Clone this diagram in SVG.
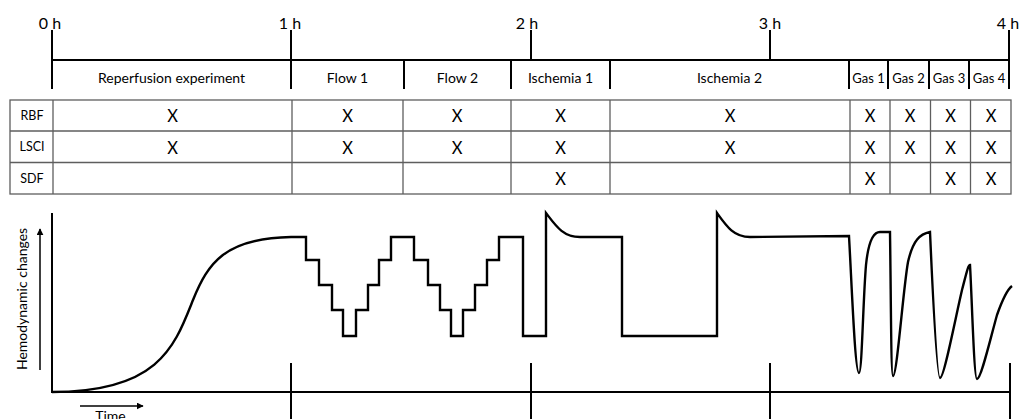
<svg xmlns="http://www.w3.org/2000/svg" width="1021" height="419" viewBox="0 0 1021 419">
<style>
  .ln{stroke:#000;stroke-width:2;fill:none;stroke-linecap:butt}
  .grid{stroke:#5e5e5e;stroke-width:1.3;fill:none}
  .hr{font-family:Lato,"Liberation Sans",sans-serif;font-size:16px;fill:#000;text-anchor:middle}
  .ph{font-family:Lato,"Liberation Sans",sans-serif;font-size:14px;fill:#000;text-anchor:middle}
  .phs{font-family:Lato,"Liberation Sans",sans-serif;font-size:13px;fill:#000;text-anchor:middle}
  .rl{font-family:Lato,"Liberation Sans",sans-serif;font-size:12.5px;fill:#000;text-anchor:middle}
  .x{font-family:Lato,"Liberation Sans",sans-serif;font-size:16.5px;fill:#000;text-anchor:middle}
  .ax{font-family:Lato,"Liberation Sans",sans-serif;font-size:14px;fill:#000;text-anchor:middle}
  .curve{stroke:#000;stroke-width:2.4;fill:none;stroke-linejoin:miter}
</style>
<defs>
  <marker id="arr" viewBox="0 0 10 10" refX="9" refY="5" markerWidth="7" markerHeight="7" markerUnits="userSpaceOnUse" orient="auto">
    <path d="M0,0 L10,5 L0,10 z" fill="#000"/>
  </marker>
</defs>
<rect width="1021" height="419" fill="#fff"/>

<g id="timeline">
  <line class="ln" x1="52" y1="60" x2="1009" y2="60"/>
  <line class="ln" x1="52" y1="30" x2="52" y2="89"/>
  <line class="ln" x1="291" y1="30" x2="291" y2="89"/>
  <line class="ln" x1="531" y1="30" x2="531" y2="60"/>
  <line class="ln" x1="770" y1="30" x2="770" y2="60"/>
  <line class="ln" x1="1009" y1="30" x2="1009" y2="89"/>
  <line class="ln" x1="404" y1="60" x2="404" y2="89"/>
  <line class="ln" x1="511" y1="60" x2="511" y2="89"/>
  <line class="ln" x1="610" y1="60" x2="610" y2="89"/>
  <line class="ln" x1="849" y1="60" x2="849" y2="89"/>
  <line class="ln" x1="888" y1="60" x2="888" y2="89"/>
  <line class="ln" x1="929" y1="60" x2="929" y2="89"/>
  <line class="ln" x1="969" y1="60" x2="969" y2="89"/>
  <text class="hr" x="50" y="29">0 h</text>
  <text class="hr" x="290" y="29">1 h</text>
  <text class="hr" x="527" y="29">2 h</text>
  <text class="hr" x="770" y="29">3 h</text>
  <text class="hr" x="1008" y="29">4 h</text>
</g>

<g id="phases">
  <text class="ph" x="171.5" y="83">Reperfusion experiment</text>
  <text class="ph" x="347.5" y="83">Flow 1</text>
  <text class="ph" x="457.5" y="83">Flow 2</text>
  <text class="ph" x="560.5" y="83">Ischemia 1</text>
  <text class="ph" x="729.5" y="83">Ischemia 2</text>
  <text class="phs" x="868.5" y="83">Gas 1</text>
  <text class="phs" x="908.5" y="83">Gas 2</text>
  <text class="phs" x="949" y="83">Gas 3</text>
  <text class="phs" x="989" y="83">Gas 4</text>
</g>

<g id="table">
  <rect class="grid" x="10" y="100" width="1001" height="94"/>
  <line class="grid" x1="10" y1="131" x2="1011" y2="131"/>
  <line class="grid" x1="10" y1="162.5" x2="1011" y2="162.5"/>
  <line class="grid" x1="53" y1="100" x2="53" y2="194"/>
  <line class="grid" x1="292" y1="100" x2="292" y2="194"/>
  <line class="grid" x1="403" y1="100" x2="403" y2="194"/>
  <line class="grid" x1="511" y1="100" x2="511" y2="194"/>
  <line class="grid" x1="610" y1="100" x2="610" y2="194"/>
  <line class="grid" x1="850" y1="100" x2="850" y2="194"/>
  <line class="grid" x1="890" y1="100" x2="890" y2="194"/>
  <line class="grid" x1="930.5" y1="100" x2="930.5" y2="194"/>
  <line class="grid" x1="970.5" y1="100" x2="970.5" y2="194"/>
  <text class="rl" x="32" y="119.5">RBF</text>
  <text class="rl" x="32" y="151">LSCI</text>
  <text class="rl" x="32" y="182.5">SDF</text>
  <g id="row-rbf">
    <text class="x" x="172.5" y="122">X</text>
    <text class="x" x="347.5" y="122">X</text>
    <text class="x" x="457" y="122">X</text>
    <text class="x" x="560.5" y="122">X</text>
    <text class="x" x="730" y="122">X</text>
    <text class="x" x="870" y="122">X</text>
    <text class="x" x="910" y="122">X</text>
    <text class="x" x="950.5" y="122">X</text>
    <text class="x" x="991" y="122">X</text>
  </g>
  <g id="row-lsci">
    <text class="x" x="172.5" y="153.5">X</text>
    <text class="x" x="347.5" y="153.5">X</text>
    <text class="x" x="457" y="153.5">X</text>
    <text class="x" x="560.5" y="153.5">X</text>
    <text class="x" x="730" y="153.5">X</text>
    <text class="x" x="870" y="153.5">X</text>
    <text class="x" x="910" y="153.5">X</text>
    <text class="x" x="950.5" y="153.5">X</text>
    <text class="x" x="991" y="153.5">X</text>
  </g>
  <g id="row-sdf">
    <text class="x" x="560.5" y="185">X</text>
    <text class="x" x="870" y="185">X</text>
    <text class="x" x="950.5" y="185">X</text>
    <text class="x" x="991" y="185">X</text>
  </g>
</g>

<g id="plot-axes">
  <line class="ln" x1="52" y1="213" x2="52" y2="393" stroke-width="2.4"/>
  <line class="ln" x1="51" y1="392" x2="1010" y2="392" stroke-width="2.4"/>
  <line class="ln" x1="291" y1="363" x2="291" y2="419"/>
  <line class="ln" x1="531" y1="363" x2="531" y2="419"/>
  <line class="ln" x1="770" y1="363" x2="770" y2="419"/>
  <line class="ln" x1="1010" y1="363" x2="1010" y2="419"/>
</g>

<g id="connectors">
  <line x1="40" y1="370" x2="40" y2="229" stroke="#000" stroke-width="1.5" marker-end="url(#arr)"/>
  <line x1="80" y1="406" x2="143" y2="406" stroke="#000" stroke-width="1.5" marker-end="url(#arr)"/>
</g>

<g id="axis-labels">
  <text class="ax" transform="translate(27,299) rotate(-90)">Hemodynamic changes</text>
  <text class="ax" x="110.5" y="421">Time</text>
</g>

<g id="curve">
  <path class="curve" d="M52,392 C160,392 175,345 193,300 C208,263 225,238 291,237 L306,237 L306,260 L319,260 L319,285 L332,285 L332,310 L343,310 L343,336 L356,336 L356,310 L368,310 L368,285 L379,285 L379,260 L391,260 L391,237 L414,237 L414,260 L428,260 L428,285 L440,285 L440,310 L451,310 L451,336 L463,336 L463,310 L475,310 L475,285 L487,285 L487,260 L499,260 L499,237 L523,237 L523,336 L546,336 L546,213 C556,226 563,237 580,237 L622,237 L622,336 L717,336 L717,213 C727,227 734,237 750,237 L849,236 C852,290 855,373 859,373 C862,373 863,300 866,265 C868,245 872,232 880,232 L890,232 C891,300 891,376 893,376 C897,376 903,290 908,262 C913,240 920,234 930,232 C933,300 937,378 940,378 C944,378 955,320 962,290 C966,275 968,265 970,265 C972,300 974,379 977,379 C981,379 990,340 997,315 C1003,298 1008,289 1012,286"/>
</g>
</svg>
